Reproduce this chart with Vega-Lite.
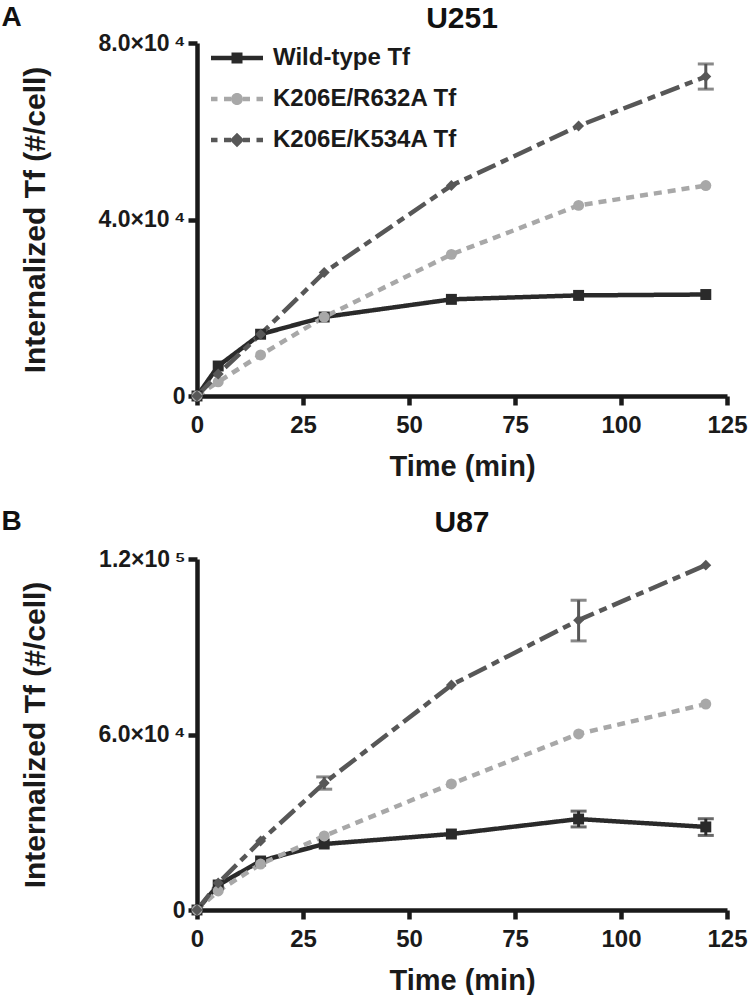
{
  "$schema": "https://vega.github.io/schema/vega-lite/v6.json",
  "padding": {"left": 1, "top": 4, "right": 0, "bottom": 0},
  "background": "white",
  "config": {
    "view": {"stroke": null},
    "font": "Liberation Sans",
    "axis": {
      "grid": false,
      "domainColor": "#1a1a1a",
      "domainWidth": 4.5,
      "tickColor": "#1a1a1a",
      "tickWidth": 4.5,
      "tickSize": 9,
      "labelFont": "Liberation Sans",
      "labelFontWeight": "bold",
      "labelColor": "#1a1a1a",
      "labelFlush": false,
      "labelOverlap": false,
      "titleFont": "Liberation Sans",
      "titleFontWeight": "bold",
      "titleColor": "#1a1a1a"
    },
    "title": {"font": "Liberation Sans", "fontWeight": "bold", "color": "#111111"}
  },
  "datasets": {
    "u251": [
      {"t": 0, "series": "Wild-type Tf", "y": 0},
      {"t": 5, "series": "Wild-type Tf", "y": 6800},
      {"t": 15, "series": "Wild-type Tf", "y": 14000},
      {"t": 30, "series": "Wild-type Tf", "y": 17900},
      {"t": 60, "series": "Wild-type Tf", "y": 21900},
      {"t": 90, "series": "Wild-type Tf", "y": 22800},
      {"t": 120, "series": "Wild-type Tf", "y": 23000},
      {"t": 0, "series": "K206E/R632A Tf", "y": 0},
      {"t": 5, "series": "K206E/R632A Tf", "y": 3200},
      {"t": 15, "series": "K206E/R632A Tf", "y": 9300},
      {"t": 30, "series": "K206E/R632A Tf", "y": 17900},
      {"t": 60, "series": "K206E/R632A Tf", "y": 32100},
      {"t": 90, "series": "K206E/R632A Tf", "y": 43200},
      {"t": 120, "series": "K206E/R632A Tf", "y": 47700},
      {"t": 0, "series": "K206E/K534A Tf", "y": 0},
      {"t": 5, "series": "K206E/K534A Tf", "y": 5000},
      {"t": 15, "series": "K206E/K534A Tf", "y": 14000},
      {"t": 30, "series": "K206E/K534A Tf", "y": 28000},
      {"t": 60, "series": "K206E/K534A Tf", "y": 47700},
      {"t": 90, "series": "K206E/K534A Tf", "y": 61200},
      {"t": 120, "series": "K206E/K534A Tf", "y": 72400, "lo": 69550, "hi": 75250}
    ],
    "u87": [
      {"t": 0, "series": "Wild-type Tf", "y": 0},
      {"t": 5, "series": "Wild-type Tf", "y": 8550},
      {"t": 15, "series": "Wild-type Tf", "y": 16750},
      {"t": 30, "series": "Wild-type Tf", "y": 22560},
      {"t": 60, "series": "Wild-type Tf", "y": 25980},
      {"t": 90, "series": "Wild-type Tf", "y": 31100, "lo": 28400, "hi": 33800},
      {"t": 120, "series": "Wild-type Tf", "y": 28400, "lo": 25500, "hi": 31200},
      {"t": 0, "series": "K206E/R632A Tf", "y": 0},
      {"t": 5, "series": "K206E/R632A Tf", "y": 6500},
      {"t": 15, "series": "K206E/R632A Tf", "y": 15700},
      {"t": 30, "series": "K206E/R632A Tf", "y": 25300},
      {"t": 60, "series": "K206E/R632A Tf", "y": 43100},
      {"t": 90, "series": "K206E/R632A Tf", "y": 60200},
      {"t": 120, "series": "K206E/R632A Tf", "y": 70400},
      {"t": 0, "series": "K206E/K534A Tf", "y": 0},
      {"t": 5, "series": "K206E/K534A Tf", "y": 9200},
      {"t": 15, "series": "K206E/K534A Tf", "y": 23600},
      {"t": 30, "series": "K206E/K534A Tf", "y": 43400, "lo": 41300, "hi": 45500},
      {"t": 60, "series": "K206E/K534A Tf", "y": 76900},
      {"t": 90, "series": "K206E/K534A Tf", "y": 99100, "lo": 92000, "hi": 105900},
      {"t": 120, "series": "K206E/K534A Tf", "y": 117900}
    ]
  },
  "spacing": 27,
  "vconcat": [
    {
      "title": {"text": "A", "orient": "left", "angle": 0, "anchor": "end", "frame": "bounds", "align": "right", "baseline": "top", "fontSize": 28, "offset": -22},
      "vconcat": [
        {
          "title": {"text": "U251", "fontSize": 30, "anchor": "middle", "frame": "group", "offset": -2},
          "width": 530,
          "height": 353,
          "data": {"name": "u251"},
          "layer": [
            {
              "mark": {"type": "line", "strokeWidth": 4.5},
              "encoding": {
                "x": {"field": "t", "type": "quantitative", "scale": {"domain": [0, 125], "nice": false}, "axis": {"values": [0, 25, 50, 75, 100, 125], "title": "Time (min)", "labelFontSize": 24, "titleFontSize": 29, "labelPadding": 8, "titlePadding": 15}},
                "y": {"field": "y", "type": "quantitative", "scale": {"domain": [0, 80000], "nice": false}, "axis": {"values": [0, 40000, 80000], "labelExpr": "datum.value == 0 ? '0' : datum.value == 40000 ? '4.0×10\u2009⁴' : '8.0×10\u2009⁴'", "title": "Internalized Tf (#/cell)", "labelFontSize": 23, "titleFontSize": 30, "labelPadding": 3, "titlePadding": 48}},
                "color": {"field": "series", "type": "nominal", "scale": {"domain": ["Wild-type Tf", "K206E/R632A Tf", "K206E/K534A Tf"], "range": ["#2a2a2a", "#a8a8a8", "#575757"]}, "legend": null},
                "strokeDash": {"field": "series", "type": "nominal", "scale": {"domain": ["Wild-type Tf", "K206E/R632A Tf", "K206E/K534A Tf"], "range": [[1, 0], [8, 6], [20, 6, 8, 6]]}, "legend": null}
              }
            },
            {
              "transform": [{"filter": "isValid(datum.lo)"}],
              "mark": {"type": "errorbar", "ticks": {"size": 16, "thickness": 3}, "rule": {"strokeWidth": 3}},
              "encoding": {
                "x": {"field": "t", "type": "quantitative"},
                "y": {"field": "lo", "type": "quantitative", "title": "Internalized Tf (#/cell)"},
                "y2": {"field": "hi"},
                "color": {"field": "series", "type": "nominal", "legend": null}
              }
            },
            {
              "mark": {"type": "point", "filled": true, "size": 120, "opacity": 1},
              "encoding": {
                "x": {"field": "t", "type": "quantitative"},
                "y": {"field": "y", "type": "quantitative"},
                "color": {"field": "series", "type": "nominal", "legend": null},
                "shape": {"field": "series", "type": "nominal", "scale": {"domain": ["Wild-type Tf", "K206E/R632A Tf", "K206E/K534A Tf"], "range": ["square", "circle", "diamond"]}, "legend": null}
              }
            },
            {
              "transform": [{"filter": "datum.t < 0"}],
              "mark": {"type": "point", "filled": true, "opacity": 1},
              "encoding": {
                "x": {"field": "t", "type": "quantitative"},
                "y": {"field": "y", "type": "quantitative"},
                "fill": {"field": "series", "type": "nominal", "scale": {"domain": ["Wild-type Tf", "K206E/R632A Tf", "K206E/K534A Tf"], "range": ["#2a2a2a", "#a8a8a8", "#575757"]}, "legend": {"orient": "none", "legendX": 28, "legendY": 3, "title": null, "symbolSize": 100, "labelOffset": 24, "rowPadding": 17, "labelFontSize": 24, "labelFontWeight": "bold", "labelColor": "#1a1a1a", "labelLimit": 400, "symbolStrokeWidth": 0, "padding": 0}},
                "shape": {"field": "series", "type": "nominal", "scale": {"domain": ["Wild-type Tf", "K206E/R632A Tf", "K206E/K534A Tf"], "range": ["M-5.2,-0.45H5.2V0.45H-5.2Z M-1.1,-1.1H1.1V1.1H-1.1Z", "M-5.2,-0.45H-3.9V0.45H-5.2Z M-2.6,-0.45H-1.2V0.45H-2.6Z M1.2,-0.45H2.6V0.45H1.2Z M3.9,-0.45H5.2V0.45H3.9Z M-1.2,0A1.2,1.2,0,1,1,1.2,0A1.2,1.2,0,1,1,-1.2,0Z", "M-5.2,-0.45H-3.9V0.45H-5.2Z M-2.6,-0.45H-1.2V0.45H-2.6Z M1.2,-0.45H2.6V0.45H1.2Z M3.9,-0.45H5.2V0.45H3.9Z M0,-1.45L1.45,0L0,1.45L-1.45,0Z"]}, "legend": {"orient": "none", "legendX": 28, "legendY": 3, "title": null, "symbolSize": 100, "labelOffset": 24, "rowPadding": 17, "labelFontSize": 24, "labelFontWeight": "bold", "labelColor": "#1a1a1a", "labelLimit": 400, "symbolStrokeWidth": 0, "padding": 0}}
              }
            }
          ],
          "resolve": {"scale": {"shape": "independent", "fill": "independent"}}
        }
      ]
    },
    {
      "title": {"text": "B", "orient": "left", "angle": 0, "anchor": "end", "frame": "bounds", "align": "right", "baseline": "top", "fontSize": 28, "offset": -22},
      "vconcat": [
        {
          "title": {"text": "U87", "fontSize": 30, "anchor": "middle", "frame": "group", "offset": 10},
          "width": 530,
          "height": 351,
          "data": {"name": "u87"},
          "layer": [
            {
              "mark": {"type": "line", "strokeWidth": 4.5},
              "encoding": {
                "x": {"field": "t", "type": "quantitative", "scale": {"domain": [0, 125], "nice": false}, "axis": {"values": [0, 25, 50, 75, 100, 125], "title": "Time (min)", "labelFontSize": 24, "titleFontSize": 29, "labelPadding": 8, "titlePadding": 15}},
                "y": {"field": "y", "type": "quantitative", "scale": {"domain": [0, 120000], "nice": false}, "axis": {"values": [0, 60000, 120000], "labelExpr": "datum.value == 0 ? '0' : datum.value == 60000 ? '6.0×10\u2009⁴' : '1.2×10\u2009⁵'", "title": "Internalized Tf (#/cell)", "labelFontSize": 23, "titleFontSize": 30, "labelPadding": 3, "titlePadding": 48}},
                "color": {"field": "series", "type": "nominal", "scale": {"domain": ["Wild-type Tf", "K206E/R632A Tf", "K206E/K534A Tf"], "range": ["#2a2a2a", "#a8a8a8", "#575757"]}, "legend": null},
                "strokeDash": {"field": "series", "type": "nominal", "scale": {"domain": ["Wild-type Tf", "K206E/R632A Tf", "K206E/K534A Tf"], "range": [[1, 0], [8, 6], [20, 6, 8, 6]]}, "legend": null}
              }
            },
            {
              "transform": [{"filter": "isValid(datum.lo)"}],
              "mark": {"type": "errorbar", "ticks": {"size": 16, "thickness": 3}, "rule": {"strokeWidth": 3}},
              "encoding": {
                "x": {"field": "t", "type": "quantitative"},
                "y": {"field": "lo", "type": "quantitative", "title": "Internalized Tf (#/cell)"},
                "y2": {"field": "hi"},
                "color": {"field": "series", "type": "nominal", "legend": null}
              }
            },
            {
              "mark": {"type": "point", "filled": true, "size": 120, "opacity": 1},
              "encoding": {
                "x": {"field": "t", "type": "quantitative"},
                "y": {"field": "y", "type": "quantitative"},
                "color": {"field": "series", "type": "nominal", "legend": null},
                "shape": {"field": "series", "type": "nominal", "scale": {"domain": ["Wild-type Tf", "K206E/R632A Tf", "K206E/K534A Tf"], "range": ["square", "circle", "diamond"]}, "legend": null}
              }
            }
          ]
        }
      ]
    }
  ]
}
